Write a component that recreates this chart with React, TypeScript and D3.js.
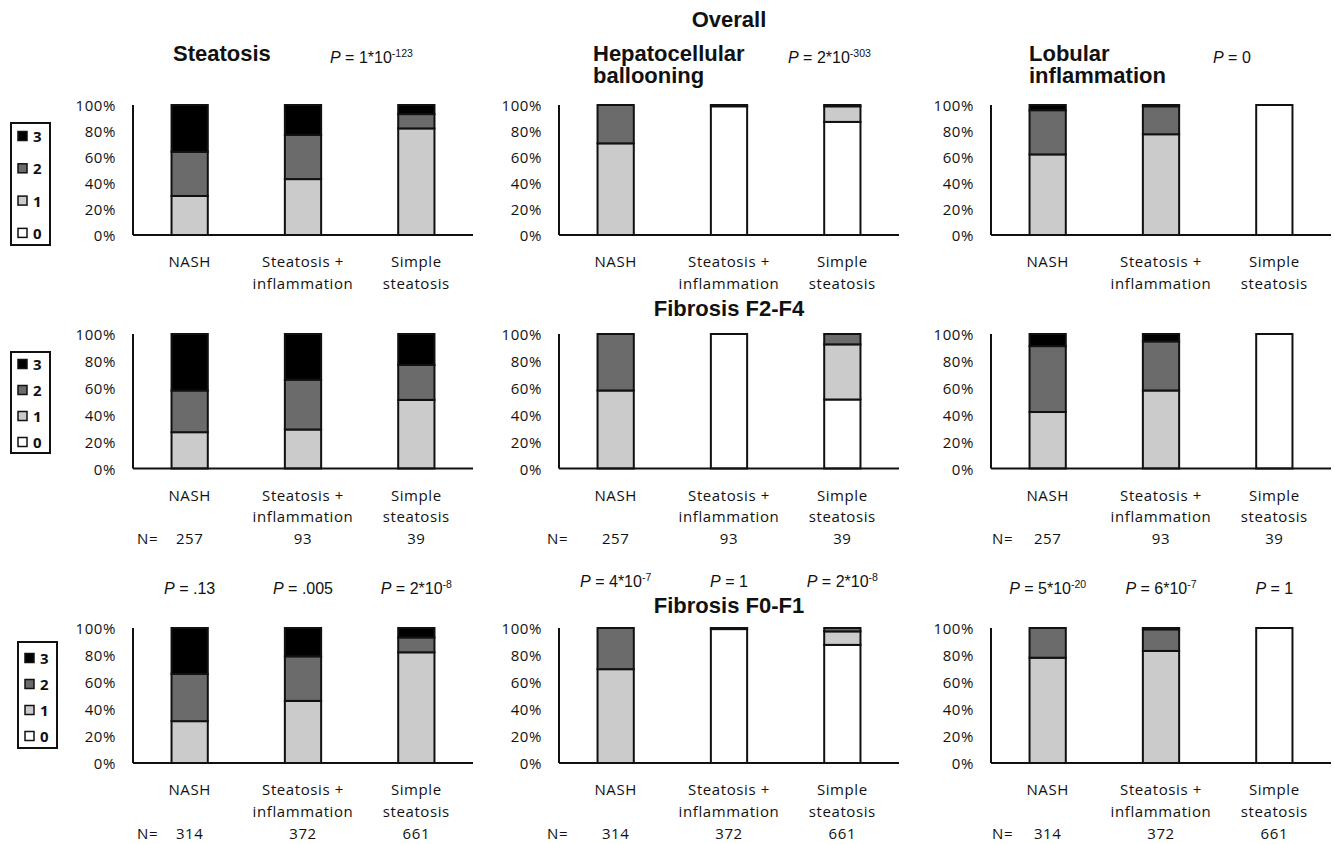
import React from "react";
import * as d3 from "d3";

// Patient groups (x categories) and histological grades (stack keys)
const groups = ["NASH", "Steatosis + inflammation", "Simple steatosis"];
const groupLines = [["NASH"], ["Steatosis +", "inflammation"], ["Simple", "steatosis"]];
const grades = ["0", "1", "2", "3"];
const tickValues = [0, 20, 40, 60, 80, 100];

// Grade distributions (% of patients in grade 0,1,2,3) per group
// Overall cohort
const steatosisOverall = [[0, 30, 34, 36], [0, 43, 34, 23], [0, 82, 11, 7]];
const ballooningOverall = [[0, 70.5, 29.5, 0], [99, 1, 0, 0], [87, 12, 1, 0]];
const lobularOverall = [[0, 62, 34, 4], [0, 77.5, 21.5, 1], [100, 0, 0, 0]];
// Fibrosis F2-F4
const steatosisF2F4 = [[0, 27, 31, 42], [0, 29, 37, 34], [0, 51, 26, 23]];
const ballooningF2F4 = [[0, 58, 42, 0], [100, 0, 0, 0], [51.3, 41, 7.7, 0]];
const lobularF2F4 = [[0, 42, 49, 9], [0, 58, 36.5, 5.5], [100, 0, 0, 0]];
// Fibrosis F0-F1
const steatosisF0F1 = [[0, 31, 35, 34], [0, 46, 33, 21], [0, 82, 11, 7]];
const ballooningF0F1 = [[0, 69.5, 30.5, 0], [99.2, 0, 0.8, 0], [87.5, 10, 2.5, 0]];
const lobularF0F1 = [[0, 78, 22, 0], [0, 83, 16, 1], [100, 0, 0, 0]];

// Sample sizes
const nF2F4 = [257, 93, 39];
const nF0F1 = [314, 372, 661];

// Titles and P values ("^" marks the exponent)
const panelTitles = [["Steatosis"], ["Hepatocellular", "ballooning"], ["Lobular", "inflammation"]];
const pOverall = ["1*10^-123", "2*10^-303", "0"];
const pSteatosisByGroup = [".13", ".005", "2*10^-8"];
const pBallooningByGroup = ["4*10^-7", "1", "2*10^-8"];
const pLobularByGroup = ["5*10^-20", "6*10^-7", "1"];

const rowsData = [
  [steatosisOverall, ballooningOverall, lobularOverall],
  [steatosisF2F4, ballooningF2F4, lobularF2F4],
  [steatosisF0F1, ballooningF0F1, lobularF0F1],
];
const pByColumn = [pSteatosisByGroup, pBallooningByGroup, pLobularByGroup];

const gradeColors: Record<string, string> = { "0": "#ffffff", "1": "#cbcbcb", "2": "#6b6b6b", "3": "#000000" };

// Layout
const W = 1334;
const H = 844;
const PLOT_W = 340;
const COLS = [
  { x: 133, titleX: 173, pX: 330, nX: 137 },
  { x: 559, titleX: 593, pX: 788, nX: 547 },
  { x: 991, titleX: 1029, pX: 1213, nX: 992 },
];
const ROWS = [
  { top: 105, bottom: 235 },
  { top: 334, bottom: 468.5 },
  { top: 628, bottom: 763 },
];
const LEGENDS = [
  { x: 11, y: 123, w: 39, h: 122, first: 136, step: 32.3 },
  { x: 11, y: 352, w: 39, h: 101, first: 364, step: 26 },
  { x: 18, y: 642, w: 39, h: 106, first: 658, step: 26 },
];
const pRowY = [594, 587, 594];

const LABEL_FONT = "'Open Sans', 'DejaVu Sans', sans-serif";
const TITLE_FONT = "'Liberation Sans', Arial, sans-serif";

function PValue({ value, x, y, anchor }: { value: string; x: number; y: number; anchor: string }) {
  const [base, exp] = value.split("^");
  return (
    <text x={x} y={y} textAnchor={anchor} fontFamily={TITLE_FONT} fontSize={16} fill="#111">
      <tspan fontStyle="italic">P</tspan>
      <tspan>{` = ${base}`}</tspan>
      {exp !== undefined && (
        <tspan dy={-6} fontSize={10.5}>
          {exp}
        </tspan>
      )}
    </text>
  );
}

function Panel({ values, col, row }: { values: number[][]; col: number; row: number }) {
  const { x } = COLS[col];
  const { top, bottom } = ROWS[row];
  const xScale = d3.scaleBand<string>().domain(groups).range([x, x + PLOT_W]).paddingInner(0.68).paddingOuter(0.34);
  const yScale = d3.scaleLinear().domain([0, 100]).range([bottom, top]);
  const table = groups.map((g, i) => {
    const o: any = { group: g };
    grades.forEach((k, j) => (o[k] = values[i][j]));
    return o;
  });
  const series = d3.stack<any>().keys(grades)(table);
  return (
    <g>
      {tickValues.map((t) => (
        <text
          key={t}
          x={x - 17}
          y={yScale(t)}
          textAnchor="end"
          dominantBaseline="central"
          fontFamily={LABEL_FONT}
          fontSize={15}
          letterSpacing={0.6}
          fill="#111"
        >
          {t}%
        </text>
      ))}
      {series.map((s) =>
        s
          .filter((d) => d[1] - d[0] > 0)
          .map((d, i) => (
            <rect
              key={s.key + "-" + d.data.group}
              x={xScale(d.data.group)}
              y={yScale(d[1])}
              width={xScale.bandwidth()}
              height={yScale(d[0]) - yScale(d[1])}
              fill={gradeColors[s.key]}
              stroke="#111"
              strokeWidth={2}
            />
          ))
      )}
      <line x1={x} x2={x} y1={top} y2={bottom} stroke="#111" strokeWidth={2} />
      <line x1={x} x2={x + PLOT_W} y1={bottom} y2={bottom} stroke="#111" strokeWidth={2} />
      {groups.map((g, i) => (
        <text
          key={g}
          textAnchor="middle"
          fontFamily={LABEL_FONT}
          fontSize={15}
          letterSpacing={0.6}
          fill="#111"
        >
          {groupLines[i].map((line, k) => (
            <tspan key={k} x={(xScale(g) as number) + xScale.bandwidth() / 2} y={bottom + 32 + k * 21.5}>
              {line}
            </tspan>
          ))}
        </text>
      ))}
    </g>
  );
}

function NRow({ counts, col, row }: { counts: number[]; col: number; row: number }) {
  const { x, nX } = COLS[col];
  const xScale = d3.scaleBand<string>().domain(groups).range([x, x + PLOT_W]).paddingInner(0.68).paddingOuter(0.34);
  const y = ROWS[row].bottom + 75.5;
  return (
    <g fontFamily={LABEL_FONT} fontSize={15} letterSpacing={0.6} fill="#111">
      <text x={nX} y={y}>N=</text>
      {groups.map((g, i) => (
        <text key={g} x={(xScale(g) as number) + xScale.bandwidth() / 2} y={y} textAnchor="middle">
          {counts[i]}
        </text>
      ))}
    </g>
  );
}

function Legend({ idx }: { idx: number }) {
  const L = LEGENDS[idx];
  const order = [...grades].reverse();
  return (
    <g>
      <rect x={L.x} y={L.y} width={L.w} height={L.h} fill="#fff" stroke="#111" strokeWidth={2} />
      {order.map((k, i) => {
        const cy = L.first + i * L.step;
        return (
          <g key={k}>
            <rect x={L.x + 7} y={cy - 4.5} width={9} height={9} fill={gradeColors[k]} stroke="#111" strokeWidth={1.5} />
            <text
              x={L.x + 22}
              y={cy}
              dominantBaseline="central"
              fontFamily={LABEL_FONT}
              fontWeight="bold"
              fontSize={15}
              fill="#111"
            >
              {k}
            </text>
          </g>
        );
      })}
    </g>
  );
}

export default function App() {
  return (
    <svg
      width={W}
      height={H}
      viewBox={`0 0 ${W} ${H}`}
      style={{ position: "absolute", left: 0, top: 0, display: "block", background: "#fff" }}
    >
      <rect x={0} y={0} width={W} height={H} fill="#fff" />

      {/* Section headings */}
      <g fontFamily={TITLE_FONT} fontWeight="bold" fontSize={22} fill="#111" textAnchor="middle">
        <text x={729} y={27}>Overall</text>
        <text x={729} y={316}>Fibrosis F2-F4</text>
        <text x={729} y={613}>Fibrosis F0-F1</text>
      </g>

      {/* Column titles and overall P values */}
      {panelTitles.map((lines, c) => (
        <g key={c}>
          <text fontFamily={TITLE_FONT} fontWeight="bold" fontSize={22} fill="#111">
            {lines.map((l, k) => (
              <tspan key={k} x={COLS[c].titleX} y={61 + k * 21.5}>
                {l}
              </tspan>
            ))}
          </text>
          <PValue value={pOverall[c]} x={COLS[c].pX} y={63} anchor="start" />
        </g>
      ))}

      {rowsData.map((rowVals, r) =>
        rowVals.map((vals, c) => <Panel key={r + "-" + c} values={vals} col={c} row={r} />)
      )}

      {[0, 1, 2].map((c) => (
        <NRow key={"n2-" + c} counts={nF2F4} col={c} row={1} />
      ))}
      {[0, 1, 2].map((c) => (
        <NRow key={"n3-" + c} counts={nF0F1} col={c} row={2} />
      ))}

      {/* Per-group P values, F2-F4 vs F0-F1 */}
      {pByColumn.map((pv, c) => {
        const xScale = d3
          .scaleBand<string>()
          .domain(groups)
          .range([COLS[c].x, COLS[c].x + PLOT_W])
          .paddingInner(0.68)
          .paddingOuter(0.34);
        return pv.map((v, i) => (
          <PValue
            key={c + "-" + i}
            value={v}
            x={(xScale(groups[i]) as number) + xScale.bandwidth() / 2}
            y={pRowY[c]}
            anchor="middle"
          />
        ));
      })}

      {[0, 1, 2].map((i) => (
        <Legend key={i} idx={i} />
      ))}
    </svg>
  );
}
